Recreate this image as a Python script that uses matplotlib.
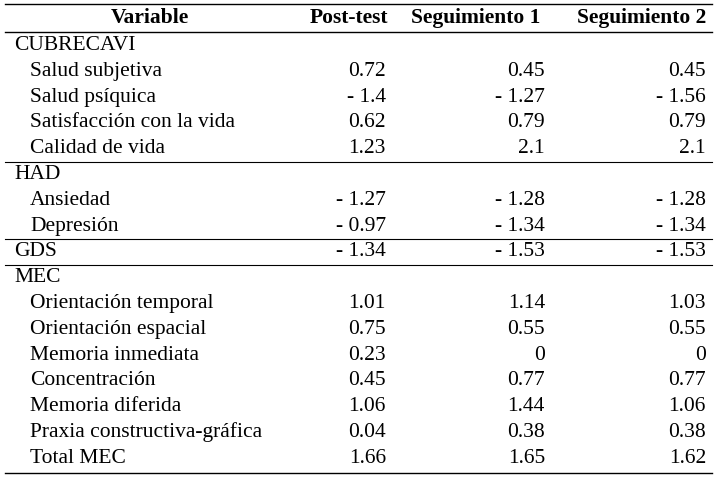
import matplotlib
matplotlib.use("Agg")
import matplotlib.pyplot as plt

headers = ["Variable", "Post-test", "Seguimiento 1", "Seguimiento 2"]
groups = ["CUBRECAVI", "HAD", "GDS", "MEC"]
cub_vars = ["Salud subjetiva", "Salud psíquica", "Satisfacción con la vida", "Calidad de vida"]
cub_post = [0.72, -1.4, 0.62, 1.23]
cub_s1 = [0.45, -1.27, 0.79, 2.1]
cub_s2 = [0.45, -1.56, 0.79, 2.1]
had_vars = ["Ansiedad", "Depresión"]
had_post = [-1.27, -0.97]
had_s1 = [-1.28, -1.34]
had_s2 = [-1.28, -1.34]
gds_post = [-1.34]
gds_s1 = [-1.53]
gds_s2 = [-1.53]
mec_vars = ["Orientación temporal", "Orientación espacial", "Memoria inmediata",
            "Concentración", "Memoria diferida", "Praxia constructiva-gráfica", "Total MEC"]
mec_post = [1.01, 0.75, 0.23, 0.45, 1.06, 0.04, 1.66]
mec_s1 = [1.14, 0.55, 0, 0.77, 1.44, 0.38, 1.65]
mec_s2 = [1.03, 0.55, 0, 0.77, 1.06, 0.38, 1.62]

def fmt(v):
    return ("- " if v < 0 else "") + f"{abs(v):g}"

fig = plt.figure(figsize=(7.18, 4.78), dpi=100)
ax = fig.add_axes([0, 0, 1, 1])
ax.set_xlim(0, 718); ax.set_ylim(478, 0); ax.axis("off")
FONT = "Liberation Serif"; FS = 15.5
rx = [386, 545, 706]

def line(y):
    ax.plot([5, 712], [y, y], color="black", lw=1)

line(4)
ax.text(150, 18, headers[0], ha="center", va="center", family=FONT, fontsize=FS, fontweight="bold")
for x, h in zip([388, 540, 706], headers[1:]):
    ax.text(x, 18, h, ha="right", va="center", family=FONT, fontsize=FS, fontweight="bold")
line(32)

rows = []
rows.append(("g", groups[0], None))
for i, v in enumerate(cub_vars):
    rows.append(("v", v, (cub_post[i], cub_s1[i], cub_s2[i])))
rows.append(("line",))
rows.append(("g", groups[1], None))
for i, v in enumerate(had_vars):
    rows.append(("v", v, (had_post[i], had_s1[i], had_s2[i])))
rows.append(("line",))
rows.append(("g", groups[2], (gds_post[0], gds_s1[0], gds_s2[0])))
rows.append(("line",))
rows.append(("g", groups[3], None))
for i, v in enumerate(mec_vars):
    rows.append(("v", v, (mec_post[i], mec_s1[i], mec_s2[i])))

y = 45.5
step = 25.8
for r in rows:
    if r[0] == "line":
        ax.plot([5, 712], [y - 13, y - 13], color="black", lw=0.8)
        continue
    kind, label, vals = r
    x0 = 14 if kind == "g" else 30
    ax.text(x0, y, label, ha="left", va="center", family=FONT, fontsize=FS)
    if vals:
        for xr, v in zip(rx, vals):
            ax.text(xr, y, fmt(v), ha="right", va="center", family=FONT, fontsize=FS)
    y += step
line(473)
fig.savefig("out.png", dpi=100)
